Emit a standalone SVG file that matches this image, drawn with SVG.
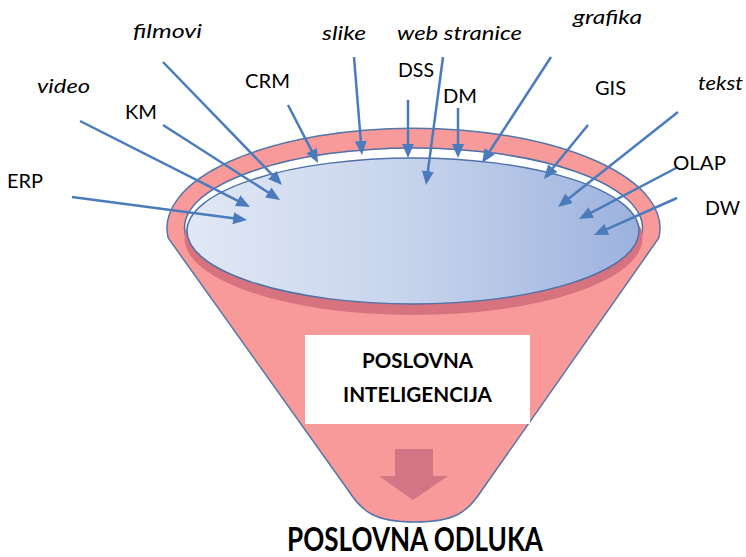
<svg xmlns="http://www.w3.org/2000/svg" width="746" height="557" viewBox="0 0 746 557">
<defs>
<linearGradient id="liquid" x1="0" y1="0" x2="1" y2="0">
<stop offset="0" stop-color="#e1e8f5"/>
<stop offset="0.5" stop-color="#c6d3ec"/>
<stop offset="1" stop-color="#9cb2de"/>
</linearGradient>
<marker id="ah" markerUnits="userSpaceOnUse" markerWidth="14" markerHeight="12" refX="6" refY="6" orient="auto">
<path d="M0,0 L14,6 L0,12 z" fill="#4a7cbd"/>
</marker>
<style>
.lbl{font-family:Lato,"Liberation Sans",Arial,sans-serif;font-size:20px;fill:#000}
.it{font-style:italic}
.bold{font-family:Lato,"Liberation Sans",Arial,sans-serif;font-weight:bold;fill:#000}
.arr{stroke:#4a7cbd;stroke-width:2.5;fill:none;marker-end:url(#ah)}
</style>
</defs>
<g id="funnel">
<path d="M168.2,238 A246.5,100 0 1 1 658.8,238 L482,490 C468,512 455,522 415,522 C375,522 362,512 348,490 Z" fill="#f99a9a" stroke="#5576aa" stroke-width="1.5"/>
<ellipse cx="413.5" cy="228" rx="229" ry="80" fill="#ffffff" stroke="#4f70a6" stroke-width="1.5"/>
<ellipse cx="413.5" cy="238" rx="229" ry="77" fill="#d7727f"/>
<ellipse cx="413" cy="231" rx="226" ry="73" fill="url(#liquid)" stroke="#4f72a8" stroke-width="1.5"/>
</g>
<g id="box">
<rect x="305" y="335" width="225" height="89" fill="#ffffff"/>
<text class="bold" x="417.5" y="368" font-size="20" text-anchor="middle" textLength="111" lengthAdjust="spacingAndGlyphs">POSLOVNA</text>
<text class="bold" x="417.5" y="402" font-size="20" text-anchor="middle" textLength="149" lengthAdjust="spacingAndGlyphs">INTELIGENCIJA</text>
</g>
<g id="down-arrow">
<path d="M395,449 L433,449 L433,476 L448,476 L413,500 L379,476 L395,476 Z" fill="#d27584"/>
</g>
<g id="result">
<text class="bold" x="287" y="551" font-size="32" textLength="256" lengthAdjust="spacingAndGlyphs">POSLOVNA ODLUKA</text>
</g>
<g id="connectors">
<line class="arr" x1="72" y1="197" x2="239.1" y2="219"/>
<line class="arr" x1="80" y1="121" x2="242.9" y2="203.4"/>
<line class="arr" x1="163" y1="125" x2="273.3" y2="195.7"/>
<line class="arr" x1="163" y1="62" x2="276.4" y2="179.2"/>
<line class="arr" x1="288" y1="105" x2="314.3" y2="155.9"/>
<line class="arr" x1="354" y1="57" x2="361.3" y2="147"/>
<line class="arr" x1="408" y1="100" x2="408" y2="150"/>
<line class="arr" x1="443" y1="57" x2="427.1" y2="177.1"/>
<line class="arr" x1="458" y1="108" x2="458" y2="150"/>
<line class="arr" x1="551" y1="57" x2="486.4" y2="156.3"/>
<line class="arr" x1="588" y1="125" x2="549" y2="172.8"/>
<line class="arr" x1="678" y1="112" x2="564.3" y2="202"/>
<line class="arr" x1="678" y1="167" x2="586.1" y2="215.3"/>
<line class="arr" x1="677" y1="198" x2="601.3" y2="231.7"/>
</g>
<g id="labels">
<g id="n-filmovi"><text class="lbl it" x="133" y="38" textLength="69" lengthAdjust="spacingAndGlyphs">filmovi</text></g>
<g id="n-slike"><text class="lbl it" x="322" y="40" textLength="44" lengthAdjust="spacingAndGlyphs">slike</text></g>
<g id="n-web"><text class="lbl it" x="397" y="40" textLength="125" lengthAdjust="spacingAndGlyphs">web stranice</text></g>
<g id="n-grafika"><text class="lbl it" x="573" y="24" textLength="69" lengthAdjust="spacingAndGlyphs">grafika</text></g>
<g id="n-video"><text class="lbl it" x="37" y="93" textLength="53" lengthAdjust="spacingAndGlyphs">video</text></g>
<g id="n-tekst"><text class="lbl it" x="698" y="90" textLength="45" lengthAdjust="spacingAndGlyphs">tekst</text></g>
<g id="n-crm"><text class="lbl" x="245" y="88" textLength="45" lengthAdjust="spacingAndGlyphs">CRM</text></g>
<g id="n-km"><text class="lbl" x="125" y="119" textLength="32" lengthAdjust="spacingAndGlyphs">KM</text></g>
<g id="n-erp"><text class="lbl" x="7" y="188" textLength="36" lengthAdjust="spacingAndGlyphs">ERP</text></g>
<g id="n-dss"><text class="lbl" x="398" y="77" textLength="36" lengthAdjust="spacingAndGlyphs">DSS</text></g>
<g id="n-dm"><text class="lbl" x="443" y="103" textLength="34" lengthAdjust="spacingAndGlyphs">DM</text></g>
<g id="n-gis"><text class="lbl" x="595" y="95" textLength="31" lengthAdjust="spacingAndGlyphs">GIS</text></g>
<g id="n-olap"><text class="lbl" x="673" y="170" textLength="53" lengthAdjust="spacingAndGlyphs">OLAP</text></g>
<g id="n-dw"><text class="lbl" x="705" y="215" textLength="35" lengthAdjust="spacingAndGlyphs">DW</text></g>
</g>
</svg>
